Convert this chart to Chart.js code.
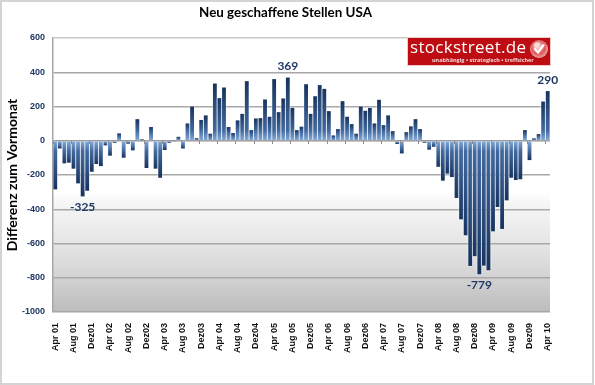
<!DOCTYPE html>
<html>
<head>
<meta charset="utf-8">
<title>Neu geschaffene Stellen USA</title>
<script src="https://cdn.jsdelivr.net/npm/chart.js@4"></script>
<style>
  html, body { margin: 0; padding: 0; background: #fff; }
  canvas { display: block; }
</style>
</head>
<body>
<canvas id="grafico" width="595" height="385"></canvas>
<script>
const monthNames = ['Apr', 'Mai', 'Jun', 'Jul', 'Aug', 'Sep', 'Okt', 'Nov', 'Dez', 'Jan', 'Feb', 'Mrz'];
const years = ['01', '02', '03', '04', '05', '06', '07', '08', '09', '10'];

// Werte (Apr 01 - Apr 10)
const values = [
  -284, -45, -132, -128, -163, -249, -325, -292, -181, -136, -148, -27,
  -87, -12, 43, -99, -17, -56, 126, 8, -159, 80, -163, -216,
  -54, -12, -4, 23, -45, 101, 200, 15, 121, 148, 41, 334,
  249, 311, 80, 45, 119, 157, 348, 62, 130, 132, 241, 140,
  360, 167, 247, 369, 192, 62, 82, 330, 157, 260, 325, 303,
  173, 31, 68, 231, 140, 97, 41, 200, 175, 192, 101, 239,
  91, 148, 56, -19, -74, 50, 84, 126, 68, -12, -52, -35,
  -152, -233, -192, -212, -334, -459, -552, -731, -674, -779, -729, -756,
  -529, -387, -515, -348, -216, -229, -225, 62, -113, 14, 39, 229,
  290
];
const annotated = [6, 51, 93, 108];

const labels = values.map((v, i) => {
  const m = monthNames[i % 12];
  const y = years[Math.floor((i + 3) / 12)];
  return m === 'Dez' ? m + y : m + ' ' + y;
});

const titleText = 'Neu geschaffene Stellen USA';
const yTitleText = 'Differenz zum Vormonat';
const logoText = 'stockstreet.de';
const logoSub = 'unabhängig • strategisch • treffsicher';
const navy = '#1f3864';

// Verlauf pro Balken, von der Nulllinie zum Balkenende
function barColor(context) {
  const chart = context.chart;
  if (context.type !== 'data' || !chart.chartArea) return '#2f5488';
  const y = chart.scales.y;
  const g = chart.ctx.createLinearGradient(0, y.getPixelForValue(0), 0, y.getPixelForValue(context.parsed.y));
  g.addColorStop(0, '#86acd9');
  g.addColorStop(Math.min(0.6, 60 / Math.max(Math.abs(context.parsed.y), 1)), '#41699f');
  g.addColorStop(1, '#17335f');
  return g;
}

const extras = {
  id: 'extras',
  beforeDraw(chart) {
    const ctx = chart.ctx, a = chart.chartArea;
    const y = chart.scales.y;
    const g = ctx.createLinearGradient(0, y.getPixelForValue(-300), 0, a.bottom);
    g.addColorStop(0, '#ffffff');
    g.addColorStop(0.1, '#f6f5f6');
    g.addColorStop(0.3, '#ececed');
    g.addColorStop(0.6, '#dbdbdc');
    g.addColorStop(1, '#bdbcbd');
    ctx.save();
    ctx.fillStyle = g;
    ctx.fillRect(a.left, y.getPixelForValue(-300), a.right - a.left, a.bottom - y.getPixelForValue(-300));
    ctx.restore();
  },
  beforeDatasetsDraw(chart) {
    const ctx = chart.ctx;
    ctx.save();
    ctx.shadowColor = 'rgba(255,255,255,0.9)';
    ctx.shadowBlur = 2;
  },
  afterDatasetsDraw(chart) {
    const ctx = chart.ctx, x = chart.scales.x, y = chart.scales.y;
    ctx.restore();
    // kleine Striche an der Nulllinie
    const band = x.getPixelForValue(1) - x.getPixelForValue(0);
    const y0 = Math.round(y.getPixelForValue(0));
    ctx.save();
    ctx.strokeStyle = '#8c8c8c';
    ctx.lineWidth = 1;
    for (let i = 0; i < values.length; i += 4) {
      const px = Math.round(x.getPixelForValue(i) - band / 2) + 0.5;
      ctx.beginPath();
      ctx.moveTo(px, y0);
      ctx.lineTo(px, y0 + 3);
      ctx.stroke();
    }
    // Beschriftung einzelner Balken
    ctx.fillStyle = navy;
    ctx.font = 'bold 12px Lato';
    ctx.textAlign = 'center';
    ctx.textBaseline = 'middle';
    annotated.forEach(i => {
      const v = values[i];
      ctx.fillText(String(v), x.getPixelForValue(i), y.getPixelForValue(v) + (v < 0 ? 11 : -11));
    });
    ctx.restore();
  },
  afterDraw(chart) {
    const ctx = chart.ctx;
    ctx.save();
    // Titel
    ctx.fillStyle = '#000';
    ctx.font = 'bold 13.4px Lato';
    ctx.textAlign = 'center';
    ctx.textBaseline = 'middle';
    ctx.fillText(titleText, 285.5, 13);
    // Logo
    ctx.fillStyle = '#f3c9c9';
    ctx.fillRect(407, 37, 144, 29);
    ctx.fillStyle = '#bd0d12';
    ctx.fillRect(408, 38, 142, 27);
    ctx.fillStyle = '#fff';
    ctx.textAlign = 'left';
    ctx.font = '17px "Open Sans"';
    ctx.letterSpacing = '0.3px';
    ctx.fillText(logoText, 410, 48);
    ctx.letterSpacing = '0px';
    ctx.font = 'bold 5.5px "Open Sans"';
    ctx.fillStyle = '#f6d6d6';
    ctx.fillText(logoSub, 432, 60);
    const g = ctx.createRadialGradient(537, 45, 2, 539, 49, 9.5);
    g.addColorStop(0, '#f5dede');
    g.addColorStop(0.6, '#e05555');
    g.addColorStop(1, '#e9b3b3');
    ctx.fillStyle = g;
    ctx.beginPath();
    ctx.arc(539, 49, 9, 0, Math.PI * 2);
    ctx.fill();
    ctx.strokeStyle = '#fff';
    ctx.lineWidth = 2.2;
    ctx.beginPath();
    ctx.moveTo(534.5, 48.5);
    ctx.lineTo(538, 52.5);
    ctx.lineTo(544, 44.5);
    ctx.stroke();
    // Rahmen
    ctx.strokeStyle = '#d4d4d4';
    ctx.lineWidth = 2;
    ctx.strokeRect(1, 1, 592, 383);
    ctx.restore();
  }
};

new Chart(document.getElementById('grafico'), {
  type: 'bar',
  plugins: [extras],
  data: {
    labels: labels,
    datasets: [{
      label: yTitleText,
      data: values,
      backgroundColor: barColor,
      barPercentage: 0.84,
      categoryPercentage: 1
    }]
  },
  options: {
    responsive: false,
    animation: false,
    layout: { padding: { top: 38, right: 45, left: 0, bottom: 0 } },
    plugins: {
      legend: { display: false },
      tooltip: { enabled: false }
    },
    scales: {
      x: {
        grid: { display: false },
        border: { display: false },
        afterFit: (scale) => { scale.height = 73; },
        ticks: {
          autoSkip: false,
          minRotation: 90,
          maxRotation: 90,
          padding: 3,
          color: '#111',
          font: { family: 'Liberation Sans', weight: 'bold', size: 9 },
          callback: function (value, index) {
            return index % 4 === 0 ? labels[index] : '';
          }
        }
      },
      y: {
        min: -1000,
        max: 600,
        afterFit: (scale) => { scale.width = 53; },
        ticks: {
          stepSize: 200,
          padding: 8,
          color: navy,
          font: { family: 'Liberation Sans', weight: 'bold', size: 9 },
          callback: (value) => String(value)
        },
        grid: {
          drawTicks: false,
          lineWidth: 1.5,
          color: (c) => c.tick.value === 600 ? '#c8c8c8' : c.tick.value === 0 ? '#8c8c8c' : '#a8a8a8'
        },
        border: { color: '#a8a8a8', width: 1.5 },
        title: {
          display: true,
          text: yTitleText,
          color: '#000',
          padding: { top: 4, bottom: 0 },
          font: { family: 'Lato', weight: 'bold', size: 14 }
        }
      }
    }
  }
});
</script>
</body>
</html>
